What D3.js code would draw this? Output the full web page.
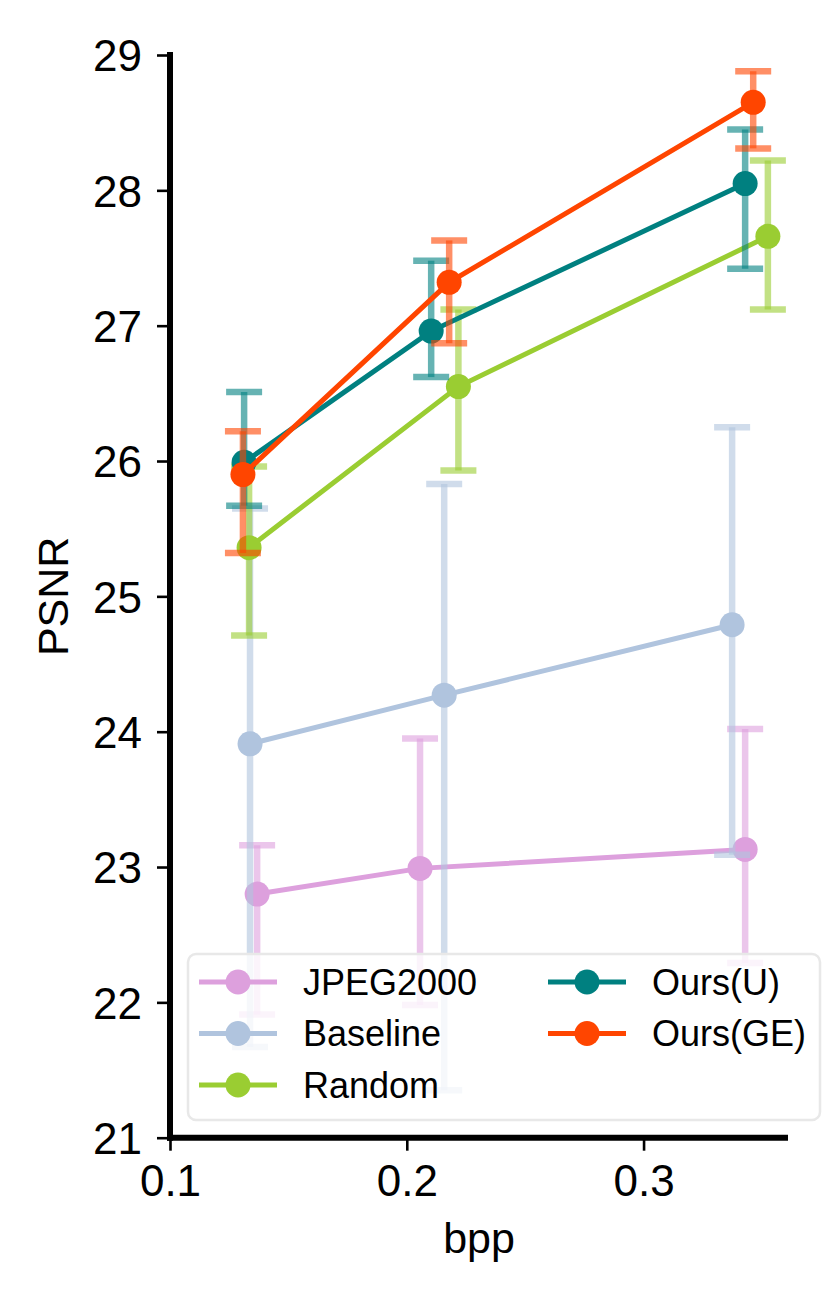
<!DOCTYPE html>
<html>
<head>
<meta charset="utf-8">
<script src="https://cdn.jsdelivr.net/npm/d3@7"></script>
<style>
  body { margin: 0; background: #fff; }
  svg text { font-family: "Liberation Sans", Arial, Helvetica, sans-serif; fill: #000; }
</style>
</head>
<body>
<svg id="chart" width="832" height="1300"></svg>
<script>
// series, in drawing order
const methods = ["JPEG2000", "Baseline", "Random", "Ours(U)", "Ours(GE)"];
const colors = ["plum", "lightsteelblue", "yellowgreen", "teal", "orangered"];

// bpp of each point, one row per method
const bpp = [
  [0.1368, 0.2056, 0.3429],
  [0.1338, 0.2158, 0.3374],
  [0.1334, 0.2218, 0.3525],
  [0.1313, 0.2103, 0.3429],
  [0.1308, 0.2179, 0.3463]
];
// PSNR at each point
const psnr = [
  [22.80, 22.99, 23.13],
  [23.91, 24.27, 24.79],
  [25.36, 26.55, 27.66],
  [25.99, 26.96, 28.05],
  [25.90, 27.32, 28.65]
];
// ends of the error bars
const psnrLow = [
  [21.91, 21.98, 22.29],
  [21.67, 21.35, 23.09],
  [24.71, 25.93, 27.12],
  [25.67, 26.62, 27.42],
  [25.32, 26.87, 28.31]
];
const psnrHigh = [
  [23.16, 23.95, 24.02],
  [25.65, 25.83, 26.25],
  [25.96, 27.12, 28.22],
  [26.51, 27.48, 28.45],
  [26.22, 27.63, 28.88]
];

const xTicks = [0.1, 0.2, 0.3];
const yTicks = [21, 22, 23, 24, 25, 26, 27, 28, 29];

let svg = d3.select("#chart");

let x = d3.scaleLinear().domain([0.1, 0.361]).range([170, 788]);
let y = d3.scaleLinear().domain([21, 29]).range([1137.7, 55]);

// axes (ticks + labels), spines drawn separately so they can be thick
let yAxis = svg.append("g")
    .attr("transform", "translate(" + x.range()[0] + ",0)")
    .call(d3.axisLeft(y).tickValues(yTicks).tickFormat(d3.format("d")).tickSize(13).tickPadding(15));
let xAxis = svg.append("g")
    .attr("transform", "translate(0," + y.range()[0] + ")")
    .call(d3.axisBottom(x).tickValues(xTicks).tickFormat(d3.format(".1f")).tickSize(13).tickPadding(14));

[yAxis, xAxis].forEach(function (g) {
  g.select(".domain").remove();
  g.selectAll(".tick line").attr("stroke", "#000").attr("stroke-width", 2.6);
  g.selectAll(".tick text").style("font-size", "44px").attr("fill", "#000");
});
yAxis.selectAll(".tick text").attr("dy", "0.36em");
xAxis.selectAll(".tick text").attr("dy", "0.72em");

svg.append("line")
    .attr("x1", x.range()[0]).attr("x2", x.range()[0])
    .attr("y1", y.range()[1] - 3).attr("y2", y.range()[0] + 3)
    .attr("stroke", "#000").attr("stroke-width", 6);
svg.append("line")
    .attr("x1", x.range()[0] - 3).attr("x2", x.range()[1])
    .attr("y1", y.range()[0]).attr("y2", y.range()[0])
    .attr("stroke", "#000").attr("stroke-width", 6);

// axis titles
svg.append("text")
    .attr("x", (x.range()[0] + x.range()[1]) / 2)
    .attr("y", 1253)
    .attr("text-anchor", "middle")
    .style("font-size", "43px")
    .text("bpp");
svg.append("text")
    .attr("transform", "translate(68," + (y.range()[0] + y.range()[1]) / 2 + ") rotate(-90)")
    .attr("text-anchor", "middle")
    .style("font-size", "43px")
    .text("PSNR");

let line = d3.line()
    .x(function (d) { return x(d[0]); })
    .y(function (d) { return y(d[1]); });

let capHalf = 18;
let plot = svg.append("g");

methods.forEach(function (m, i) {
  let pts = bpp[i].map(function (b, j) {
    return { b: b, v: psnr[i][j], lo: psnrLow[i][j], hi: psnrHigh[i][j] };
  });
  let g = plot.append("g").attr("class", "series");

  // error bars: vertical line and two caps, each semi transparent
  let eb = g.append("g").attr("stroke", colors[i]).attr("stroke-opacity", 0.6).attr("stroke-width", 6.5);
  eb.selectAll(".bar").data(pts).enter().append("line")
      .attr("x1", function (d) { return x(d.b); })
      .attr("x2", function (d) { return x(d.b); })
      .attr("y1", function (d) { return y(d.lo); })
      .attr("y2", function (d) { return y(d.hi); });
  eb.selectAll(".capLo").data(pts).enter().append("line")
      .attr("x1", function (d) { return x(d.b) - capHalf; })
      .attr("x2", function (d) { return x(d.b) + capHalf; })
      .attr("y1", function (d) { return y(d.lo); })
      .attr("y2", function (d) { return y(d.lo); });
  eb.selectAll(".capHi").data(pts).enter().append("line")
      .attr("x1", function (d) { return x(d.b) - capHalf; })
      .attr("x2", function (d) { return x(d.b) + capHalf; })
      .attr("y1", function (d) { return y(d.hi); })
      .attr("y2", function (d) { return y(d.hi); });

  g.append("path")
      .datum(pts.map(function (d) { return [d.b, d.v]; }))
      .attr("d", line)
      .attr("fill", "none")
      .attr("stroke", colors[i])
      .attr("stroke-width", 5);
  g.selectAll("circle").data(pts).enter().append("circle")
      .attr("cx", function (d) { return x(d.b); })
      .attr("cy", function (d) { return y(d.v); })
      .attr("r", 12.5)
      .attr("fill", colors[i]);
});

// legend, two columns filled top to bottom
let legend = svg.append("g");
legend.append("rect")
    .attr("x", 188).attr("y", 954)
    .attr("width", 632).attr("height", 166)
    .attr("rx", 8)
    .attr("fill", "#fff").attr("fill-opacity", 0.8)
    .attr("stroke", "#e8e8e8").attr("stroke-width", 2.5);

let colX = [199, 548];
let rowY = [982, 1033.5, 1085];
methods.forEach(function (m, i) {
  let cx = colX[Math.floor(i / 3)];
  let cy = rowY[i % 3];
  let item = legend.append("g").attr("transform", "translate(" + cx + "," + cy + ")");
  item.append("line")
      .attr("x1", 0).attr("x2", 78)
      .attr("stroke", colors[i]).attr("stroke-width", 5);
  item.append("circle").attr("cx", 39).attr("r", 12.5).attr("fill", colors[i]);
  item.append("text")
      .attr("x", 104).attr("y", 12.5)
      .style("font-size", "36px")
      .text(m);
});
</script>
</body>
</html>
